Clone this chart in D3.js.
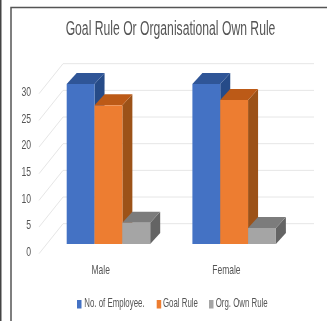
<!DOCTYPE html>
<html><head><meta charset="utf-8">
<script src="https://cdn.jsdelivr.net/npm/d3@7/dist/d3.min.js"></script>
<style>html,body{margin:0;padding:0;background:#fff;overflow:hidden}svg{display:block;filter:blur(.45px)}text{font-family:"Liberation Sans",sans-serif;fill:#555}</style>
</head><body><div id="c"></div>
<script>
const categories=["Male","Female"];
const seriesNames=["No. of Employee.","Goal Rule","Org. Own Rule"];
const employees=[30,30];
const goalRule=[26,27];
const ownRule=[4,3];
const yTicks=[0,5,10,15,20,25,30];
const seriesValues=[employees,goalRule,ownRule];
const front=["#4472C4","#ED7D31","#A5A5A5"],top3=["#2F5597","#BC5A17","#7C7C7C"],side=["#264B88","#9C5218","#646464"];
const W=327,H=321;
const svg=d3.select("#c").append("svg").attr("width",W).attr("height",H);
svg.append("rect").attr("x",11).attr("y",7.5).attr("width",W).attr("height",H).attr("fill","#fff").attr("stroke","#555").attr("stroke-width",1.5);
svg.append("rect").attr("x",0).attr("y",0).attr("width",1.5).attr("height",H).attr("fill","#444");
// squeezed text: anchor x (start/middle/end), centre y, font size, horizontal scale
function label(parent,str,x,yc,size,sx,anchor){
 return parent.append("text").attr("transform",`translate(${x},${yc}) scale(${sx},1)`).attr("text-anchor",anchor).attr("dominant-baseline","middle").attr("font-size",size).text(str);
}
const y=d3.scaleLinear().domain([0,30]).range([253.7,93.7]);
const wallDx=24,wallDy=-30,wallRight=314,wallLeft=39;
const g=svg.append("g");
yTicks.forEach(t=>{
 g.append("path").attr("d",d3.line()([[wallLeft,y(t)],[wallLeft+wallDx,y(t)+wallDy],[wallRight,y(t)+wallDy]])).attr("fill","none").attr("stroke","#e6e6e6").attr("stroke-width",1);
 label(g,String(t),31,y(t)-1,12,0.72,"end");
});
const x0=d3.scalePoint().domain(categories).range([66.7,192.4]);
const x1=d3.scaleBand().domain(d3.range(3)).range([0,83.5]);
const dx=10,dy=-11,base=-9.7;
categories.forEach((c,ci)=>{
 seriesValues.forEach((vals,si)=>{
  const v=vals[ci],xl=x0(c)+x1(si),w=x1.bandwidth(),yt=y(v)+base,yb=y(0)+base;
  g.append("path").attr("d",d3.line()([[xl+w,yt],[xl+w+dx,yt+dy],[xl+w+dx,yb+dy],[xl+w,yb]])).attr("fill",side[si]);
  g.append("path").attr("d",d3.line()([[xl,yt],[xl+dx,yt+dy],[xl+w+dx,yt+dy],[xl+w,yt]])).attr("fill",top3[si]);
  g.append("rect").attr("x",xl).attr("y",yt).attr("width",w).attr("height",yb-yt).attr("fill",front[si]);
 });
 label(g,c,x0(c)+34,270.5,12.5,0.68,"middle");
});
label(svg,"Goal Rule Or Organisational Own Rule",170.5,29,21,0.58,"middle");
const lx=[77,156.7,209],ltx=[84.3,163,215.7];
seriesNames.forEach((s,i)=>{
 svg.append("rect").attr("x",lx[i]).attr("y",300).attr("width",4.5).attr("height",8.5).attr("fill",front[i]);
 label(svg,s,ltx[i],304,13,0.605,"start");
});
</script></body></html>
